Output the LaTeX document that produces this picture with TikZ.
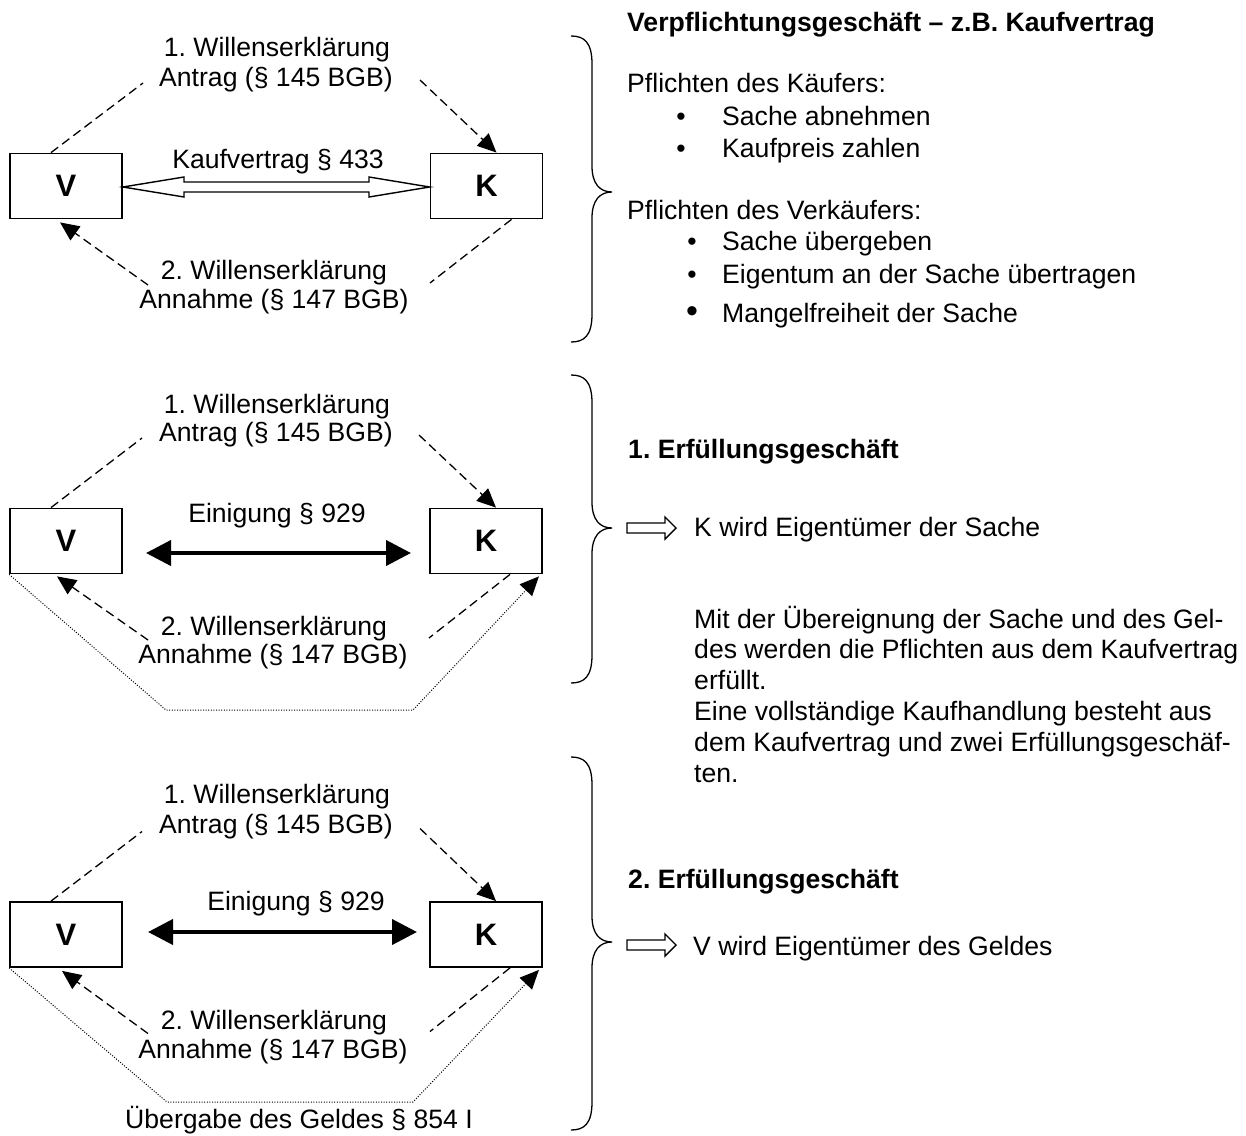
\documentclass[tikz,border=0pt]{standalone}
\usepackage{fontspec}
\setmainfont{Liberation Sans}
\usetikzlibrary{arrows.meta,calc}
\frenchspacing
\newcommand\drawbrace[3]{%
  \draw[bracestyle] (571,{#1}) .. controls (584,{#1}) and (592,{#1+6}) .. (592,{#1+28})
    -- (592,{#2-26}) .. controls (592,{#2-8}) and (600,{#2}) .. (612,{#2})
    .. controls (600,{#2}) and (592,{#2+8}) .. (592,{#2+26})
    -- (592,{#3-28}) .. controls (592,{#3-6}) and (584,{#3}) .. (571,{#3});}
\begin{document}
\begin{tikzpicture}[x=1pt,y=-1pt,
  txt/.style={inner sep=0pt,anchor=base,font=\fontsize{26.6}{30.8}\selectfont},
  ltxt/.style={txt,anchor=base west},
  btxt/.style={ltxt,font=\fontsize{26.6}{30.8}\selectfont\bfseries},
  bul/.style={txt},
  bigbul/.style={txt,font=\fontsize{34}{34}\selectfont},
  party/.style={draw,line width=1.8pt,minimum width=112pt,minimum height=65pt,inner sep=0pt,font=\fontsize{31}{31}\selectfont\bfseries},
  dashline/.style={line width=1.3pt,dash pattern=on 9pt off 5pt},
  dasharrow/.style={dashline,-{Triangle[length=19pt,width=17pt]}},
  dotline/.style={line width=1pt,dash pattern=on 1pt off 1.6pt},
  dotarrow/.style={dotline,-{Triangle[length=19pt,width=17pt]}},
  thickarrow/.style={line width=4pt,{Triangle[length=25pt,width=25pt]}-{Triangle[length=25pt,width=25pt]}},
  hollow/.style={line width=1.4pt,fill=white,line join=miter},
  bracestyle/.style={line width=1.3pt}
]
\fill[white] (0,0) rectangle (1246,1135);
\useasboundingbox (0,0) rectangle (1246,1135);

% ---------- Section 1 ----------
\node[party] (V1) at (66,186) {V};
\node[party] (K1) at (486.5,186) {K};
\node[txt] (w1a) at (277,56) {1. Willenserklärung};
\node[txt] (w1b) at (276,86) {Antrag (§ 145 BGB)};
\node[txt] (kv) at (278,168) {Kaufvertrag § 433};
\node[txt] (w1c) at (274,279) {2. Willenserklärung};
\node[txt] (w1d) at (274,308) {Annahme (§ 147 BGB)};
\coordinate (d1a) at (143,83);
\coordinate (d1b) at (420,80);
\coordinate (d1c) at (148,285);
\coordinate (d1d) at (430,283);
\draw[dashline] ([xshift=-15pt]V1.north) -- (d1a);
\draw[dasharrow] (d1b) -- ([xshift=10pt]K1.north);
\draw[dasharrow] (d1c) -- ([xshift=-6pt,yshift=-3pt]V1.south);
\draw[dashline] ([xshift=25pt]K1.south) -- (d1d);
\draw[hollow] ([yshift=-1pt]V1.east) -- (184,177) -- (184,182) -- (369,182) -- (369,177)
  -- ([yshift=-1pt]K1.west) -- (369,197) -- (369,192) -- (184,192) -- (184,197) -- cycle;
\drawbrace{36}{192}{342}

\node[btxt] (h1) at (627,31) {Verpflichtungsgeschäft – z.B. Kaufvertrag};
\node[ltxt] (pk) at (627,92) {Pflichten des Käufers:};
\node[bul] (b11) at (681,125) {•};
\node[ltxt] (t11) at (722,125) {Sache abnehmen};
\node[bul] (b12) at (681,157) {•};
\node[ltxt] (t12) at (722,157) {Kaufpreis zahlen};
\node[ltxt] (pv) at (627,219) {Pflichten des Verkäufers:};
\node[bul] (b21) at (692,250) {•};
\node[ltxt] (t21) at (722,250) {Sache übergeben};
\node[bul] (b22) at (692,283) {•};
\node[ltxt] (t22) at (722,283) {Eigentum an der Sache übertragen};
\node[bigbul] (b23) at (692,322) {•};
\node[ltxt] (t23) at (722,322) {Mangelfreiheit der Sache};

% ---------- Section 2 ----------
\node[party] (V2) at (66,541) {V};
\node[party] (K2) at (486,541) {K};
\node[txt] (w2a) at (277,413) {1. Willenserklärung};
\node[txt] (w2b) at (276,441) {Antrag (§ 145 BGB)};
\node[txt] (ein2) at (277,522) {Einigung § 929};
\node[txt] (w2c) at (274,635) {2. Willenserklärung};
\node[txt] (w2d) at (273,663) {Annahme (§ 147 BGB)};
\coordinate (e2a) at (146,553);
\coordinate (e2b) at (411,553);
\draw[thickarrow] (e2a) -- (e2b);
\coordinate (d2a) at (142,438);
\coordinate (d2b) at (419,435);
\coordinate (d2c) at (148,640);
\coordinate (d2d) at (429,638);
\draw[dashline] ([xshift=-15pt]V2.north) -- (d2a);
\draw[dasharrow] (d2b) -- ([xshift=10pt]K2.north);
\draw[dasharrow] (d2c) -- ([xshift=-9pt,yshift=-2pt]V2.south);
\draw[dashline] ([xshift=24pt]K2.south) -- (d2d);
\coordinate (o2a) at (166,710);
\coordinate (o2b) at (413,710);
\draw[dotarrow] (V2.south west) -- (o2a) -- (o2b) -- ([xshift=-4pt,yshift=-2pt]K2.south east);
\drawbrace{375}{528}{683}

\node[btxt] (h2) at (628,458) {1. Erfüllungsgeschäft};
\coordinate (ha2) at (627,528);
\draw[hollow] (ha2) ++(0,-5) -- ++(38,0) -- ++(0,-6) -- ++(11,11) -- ++(-11,11) -- ++(0,-6) -- ++(-38,0) -- cycle;
\node[ltxt] (r2) at (694,536) {K wird Eigentümer der Sache};
\node[ltxt] (m1) at (694,628) {Mit der Übereignung der Sache und des Gel-};
\node[ltxt] (m2) at (694,658.8) {des werden die Pflichten aus dem Kaufvertrag};
\node[ltxt] (m3) at (694,689.6) {erfüllt.};
\node[ltxt] (m4) at (694,720.4) {Eine vollständige Kaufhandlung besteht aus};
\node[ltxt] (m5) at (694,751.2) {dem Kaufvertrag und zwei Erfüllungsgeschäf-};
\node[ltxt] (m6) at (694,782) {ten.};

% ---------- Section 3 ----------
\node[party] (V3) at (66,934.5) {V};
\node[party] (K3) at (486,934.5) {K};
\node[txt] (w3a) at (277,803) {1. Willenserklärung};
\node[txt] (w3b) at (276,833) {Antrag (§ 145 BGB)};
\node[txt] (ein3) at (296,910) {Einigung § 929};
\node[txt] (w3c) at (274,1029) {2. Willenserklärung};
\node[txt] (w3d) at (273,1058) {Annahme (§ 147 BGB)};
\coordinate (e3a) at (148,932);
\coordinate (e3b) at (417,932);
\draw[thickarrow] (e3a) -- (e3b);
\coordinate (d3a) at (142,831.5);
\coordinate (d3b) at (420,828.5);
\coordinate (d3c) at (148,1033.5);
\coordinate (d3d) at (430,1031.5);
\draw[dashline] ([xshift=-15pt]V3.north) -- (d3a);
\draw[dasharrow] (d3b) -- ([xshift=10pt]K3.north);
\draw[dasharrow] (d3c) -- ([xshift=-4pt,yshift=-3pt]V3.south);
\draw[dashline] ([xshift=24pt]K3.south) -- (d3d);
\coordinate (o3a) at (167,1102);
\coordinate (o3b) at (413,1102);
\draw[dotarrow] (V3.south west) -- (o3a) -- (o3b) -- ([xshift=-4pt,yshift=-2pt]K3.south east);
\node[txt] (ueb) at (299,1128) {Übergabe des Geldes § 854 I};
\drawbrace{757}{942}{1130}

\node[btxt] (h3) at (628,888) {2. Erfüllungsgeschäft};
\coordinate (ha3) at (627,945);
\draw[hollow] (ha3) ++(0,-5) -- ++(38,0) -- ++(0,-6) -- ++(11,11) -- ++(-11,11) -- ++(0,-6) -- ++(-38,0) -- cycle;
\node[ltxt] (r3) at (693,955) {V wird Eigentümer des Geldes};
\end{tikzpicture}
\end{document}
